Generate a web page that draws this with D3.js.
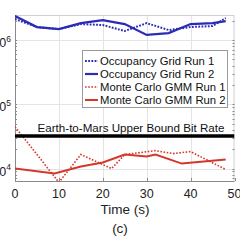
<!DOCTYPE html>
<html>
<head>
<meta charset="utf-8">
<script src="https://cdn.jsdelivr.net/npm/d3@7"></script>
<style>
  html, body { margin: 0; padding: 0; background: #fff; }
  svg { display: block; font-family: "Liberation Sans", Arial, sans-serif; }
</style>
</head>
<body>
<svg id="chart" width="240" height="240"></svg>
<script>
// values (bit rate in bits/s, time in s)
const gridTimes = [0, 5, 10, 15, 20, 25, 30, 35, 40, 45, 48];
const gridRun1 = [2.12e6, 1.59e6, 1.48e6, 1.77e6, 1.71e6, 1.38e6, 1.83e6, 1.43e6, 1.59e6, 1.65e6, 2.19e6];
const gridRun2 = [2.36e6, 1.59e6, 1.48e6, 1.83e6, 2.04e6, 1.77e6, 1.20e6, 1.28e6, 1.77e6, 1.83e6, 1.97e6];

const mcTimes1 = [0, 10, 15, 22, 25, 32, 36, 40, 48];
const mcRun1 = [44800, 6100, 16500, 10000, 16500, 19000, 17100, 18350, 9650];
const mcTimes2 = [0, 9, 15, 20, 25, 30, 32, 38, 48];
const mcRun2 = [10000, 8370, 10740, 12390, 16500, 15350, 16500, 11950, 13790];

const upperBound = 32000;
const upperBoundLabel = "Earth-to-Mars Upper Bound Bit Rate";

const xTicks = [0, 10, 20, 30, 40, 50];
const yTicks = [1e4, 1e5, 1e6];
const legendLabels = ["Occupancy Grid Run 1", "Occupancy Grid Run 2", "Monte Carlo GMM Run 1", "Monte Carlo GMM Run 2"];

const blue = "#2b2bb5";
const red = "#d2392b";

const svg = d3.select("#chart");
const pl = 15, pr = 234.5, pt = 15, pb = 181;

const x = d3.scaleLinear().domain([0, 50]).range([pl, pr]);
const y = d3.scaleLog().domain([6400, 2.45e6]).range([pb, pt]);

// grid
const grid = svg.append("g").attr("stroke", "#e4e4e4").attr("stroke-width", 1);
grid.selectAll(".gx").data(xTicks.slice(1, -1)).join("line")
  .attr("x1", d => Math.round(x(d)) + 0.5).attr("x2", d => Math.round(x(d)) + 0.5)
  .attr("y1", pt).attr("y2", pb);
grid.selectAll(".gy").data(yTicks).join("line")
  .attr("x1", pl).attr("x2", pr)
  .attr("y1", d => Math.round(y(d)) + 0.5).attr("y2", d => Math.round(y(d)) + 0.5);

// axis box with inside ticks
const box = svg.append("g").attr("stroke", "#8a8a8a").attr("fill", "none").attr("stroke-width", 1);
box.append("rect").attr("x", pl + 0.5).attr("y", pt + 0.5)
  .attr("width", pr - pl - 1).attr("height", pb - pt)
  .attr("stroke", "#d0d0d0");
box.append("line").attr("x1", pl + 0.5).attr("x2", pl + 0.5).attr("y1", pt).attr("y2", pb + 0.5);
box.append("line").attr("x1", pl).attr("x2", pr).attr("y1", pb + 0.5).attr("y2", pb + 0.5);

const minor = y.ticks().filter(t => t >= 6400 && t <= 2.45e6);
box.selectAll(".my").data(minor).join("line")
  .attr("x1", pr - 2).attr("x2", pr)
  .attr("y1", d => Math.round(y(d)) + 0.5).attr("y2", d => Math.round(y(d)) + 0.5);
box.selectAll(".ml").data(minor).join("line")
  .attr("x1", pl).attr("x2", pl + 2)
  .attr("y1", d => Math.round(y(d)) + 0.5).attr("y2", d => Math.round(y(d)) + 0.5);
box.selectAll(".tx").data(xTicks).join("line")
  .attr("x1", d => Math.round(x(d)) + 0.5).attr("x2", d => Math.round(x(d)) + 0.5)
  .attr("y1", pb - 3).attr("y2", pb);

// tick labels
svg.append("g").selectAll("text").data(xTicks).join("text")
  .attr("x", d => x(d)).attr("y", 197.5)
  .attr("text-anchor", "middle").attr("font-size", 12.5).attr("fill", "#222")
  .text(d => d);

const yl = svg.append("g").selectAll("text").data(yTicks).join("text")
  .attr("x", 11).attr("y", d => y(d) + 7)
  .attr("text-anchor", "end").attr("font-size", 12.5).attr("fill", "#222");
yl.append("tspan").text("10");
yl.append("tspan").attr("font-size", 8.5).attr("dy", -5.5).text(d => Math.round(Math.log10(d)));

svg.append("text").attr("x", 125).attr("y", 213.5)
  .attr("text-anchor", "middle").attr("font-size", 13.5).attr("fill", "#222")
  .text("Time (s)");
svg.append("text").attr("x", 120).attr("y", 232.5)
  .attr("text-anchor", "middle").attr("font-size", 13.5).attr("fill", "#222")
  .text("(c)");

// series
svg.append("clipPath").attr("id", "plotclip").append("rect")
  .attr("x", pl).attr("y", pt).attr("width", pr - pl).attr("height", pb - pt + 1);
const plot = svg.append("g").attr("clip-path", "url(#plotclip)");

const line = d3.line().x(d => x(d[0])).y(d => y(d[1]));
const series = [
  { t: gridTimes, v: gridRun1, color: blue, dash: "1.8 1.4", w: 2 },
  { t: gridTimes, v: gridRun2, color: blue, dash: null, w: 2.2 },
  { t: mcTimes1, v: mcRun1, color: red, dash: "1.6 1.6", w: 1.6 },
  { t: mcTimes2, v: mcRun2, color: red, dash: null, w: 2 }
];
series.forEach(s => {
  plot.append("path")
    .datum(d3.zip(s.t, s.v))
    .attr("d", line)
    .attr("fill", "none")
    .attr("stroke", s.color)
    .attr("stroke-width", s.w)
    .attr("stroke-dasharray", s.dash);
});

// upper bound line and its label
plot.append("line")
  .attr("x1", pl).attr("x2", pr)
  .attr("y1", y(upperBound)).attr("y2", y(upperBound))
  .attr("stroke", "#000").attr("stroke-width", 3.5);
svg.append("text").attr("x", 131).attr("y", 131.5)
  .attr("text-anchor", "middle").attr("font-size", 11.6).attr("fill", "#111")
  .text(upperBoundLabel);

// legend
const lg = svg.append("g");
lg.append("rect").attr("x", 82.5).attr("y", 50.5).attr("width", 145).attr("height", 57)
  .attr("fill", "#fff").attr("stroke", "#9a9a9a");
const rows = lg.selectAll("g").data(series).join("g")
  .attr("transform", (d, i) => `translate(0, ${61 + i * 13})`);
rows.append("line").attr("x1", 85).attr("x2", 98)
  .attr("stroke", d => d.color).attr("stroke-width", d => d.w)
  .attr("stroke-dasharray", d => d.dash);
rows.append("text").attr("x", 100).attr("y", 4)
  .attr("font-size", 11.3).attr("fill", "#111")
  .text((d, i) => legendLabels[i]);
</script>
</body>
</html>
